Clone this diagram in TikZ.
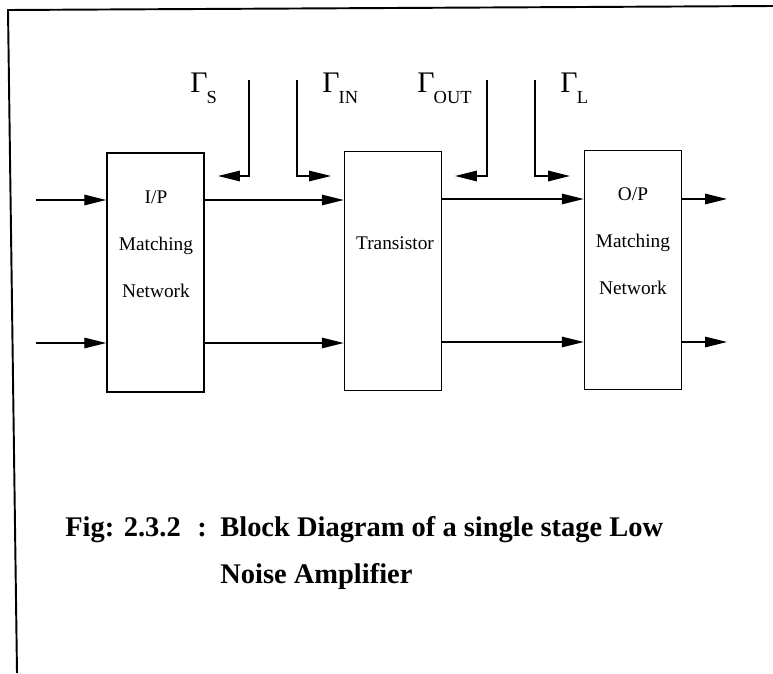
\documentclass[tikz,border=0pt]{standalone}
\usepackage{fontspec}
\setmainfont{Liberation Serif}
\usetikzlibrary{arrows.meta,positioning,calc}
\tikzset{
  blok/.style={draw,line width=0.9pt,minimum width=1.94cm,minimum height=4.78cm,inner sep=0pt},
  sig/.style={-{Triangle[length=12.5pt,width=6pt]},line width=0.8pt},
  txt/.style={font=\fontsize{11}{26.6}\selectfont,align=center},
  gam/.style={font=\fontsize{17}{20}\selectfont,anchor=base west,inner sep=0pt},
  capt/.style={font=\bfseries\fontsize{16.2}{20}\selectfont,anchor=base west,inner sep=0pt},
}
\newcommand{\refl}[1]{Γ\kern-0.5pt\raisebox{-6.5pt}{\fontsize{10.5}{11}\selectfont #1}}

\begin{document}
\begin{tikzpicture}[x=0.02cm,y=-0.02cm]
  \useasboundingbox (0,0) rectangle (773,673);
  \draw[line width=1.1pt] (773,6) -- (8,10) -- (17,673);
  \node[blok] (ip) at (155.5,272.5) {};
  \node[blok] (tr) at (393,271) {};
  \node[blok] (op) at (633,270) {};
  \node[txt] (ipt) at (156,244) {I/P\\Matching\\Network};
  \node[txt] (trt) at (395,243) {Transistor};
  \node[txt] (opt) at (633,241) {O/P\\Matching\\Network};
  \coordinate (a1) at (36,200);
  \coordinate (a2) at (36,343);
  \coordinate (b1) at (727,199);
  \coordinate (b2) at (727,342);
  \draw[sig] (a1) -- (a1 -| ip.west);
  \draw[sig] (a2) -- (a2 -| ip.west);
  \draw[sig] (ip.east |- a1) -- (tr.west |- a1);
  \draw[sig] (ip.east |- a2) -- (tr.west |- a2);
  \draw[sig] (tr.east |- b1) -- (op.west |- b1);
  \draw[sig] (tr.east |- b2) -- (op.west |- b2);
  \draw[sig] (op.east |- b1) -- (b1);
  \draw[sig] (op.east |- b2) -- (b2);
  \coordinate (gst) at (249,80);
  \coordinate (gse) at (218,176);
  \coordinate (git) at (297,80);
  \coordinate (gie) at (331,176);
  \coordinate (got) at (487,80);
  \coordinate (goe) at (455,176);
  \coordinate (glt) at (535,80);
  \coordinate (gle) at (570,176);
  \draw[sig] (gst) |- (gse);
  \draw[sig] (git) |- (gie);
  \draw[sig] (got) |- (goe);
  \draw[sig] (glt) |- (gle);
  \node[gam] (ls) at (190,92) {\refl{S}};
  \node[gam] (li) at (322,92) {\refl{IN}};
  \node[gam] (lo) at (417,92) {\refl{OUT}};
  \node[gam] (ll) at (560,92) {\refl{L}};
  \node[capt] (fig) at (65,536) {Fig: 2.3.2};
  \node[capt] (col) at (197,536) {:};
  \node[capt] (cap1) at (220,536) {Block Diagram of a single stage Low};
  \node[capt] (cap2) at (220,583) {Noise Amplifier};
\end{tikzpicture}
\end{document}
